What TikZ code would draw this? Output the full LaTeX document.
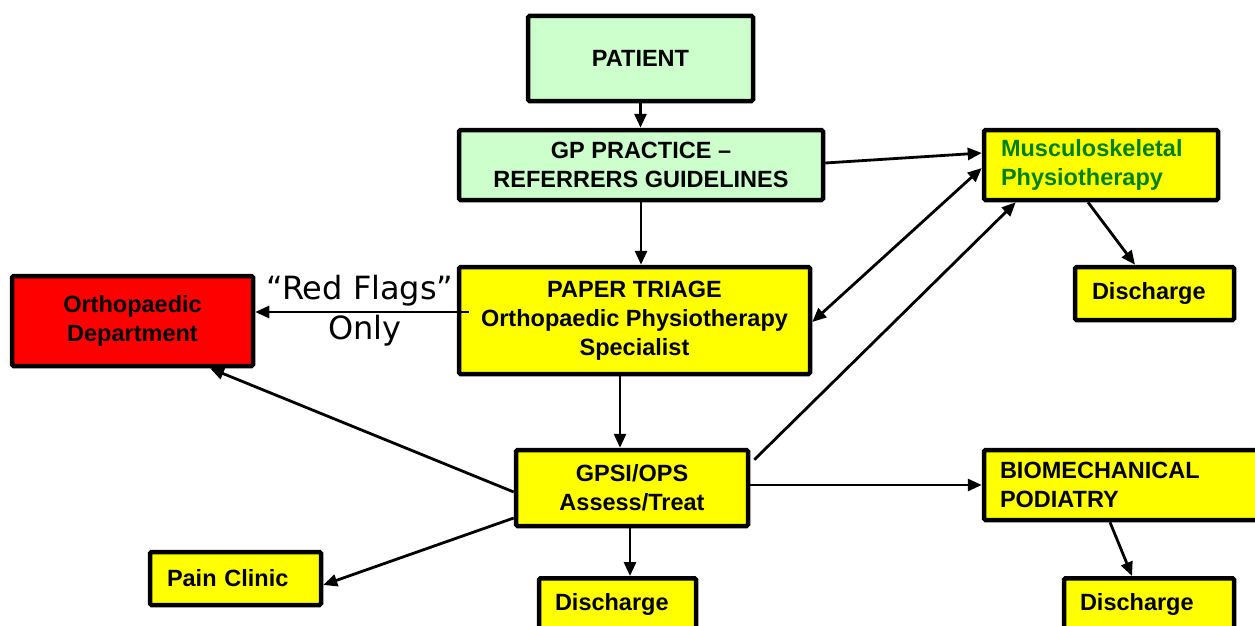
\documentclass[tikz,border=0pt]{standalone}
\usepackage{fontspec}
\setmainfont{Liberation Sans}
\newfontfamily\lblfont{DejaVu Sans}
\usetikzlibrary{arrows.meta,calc}
\definecolor{lgreen}{HTML}{CCFFCC}
\definecolor{yel}{HTML}{FFFF00}
\definecolor{rd}{HTML}{FF0000}
\definecolor{dgreen}{HTML}{008000}
\tikzset{
  box/.style={draw=black, line width=4.5pt, rounded corners=1.5pt, rectangle, inner sep=0pt,
    font=\fontsize{23.5}{29}\selectfont\bfseries, align=center},
  lbox/.style={box, align=left},
  arr/.style={line width=2.8pt, -{Triangle[length=14pt,width=12pt]}},
  darr/.style={line width=2.8pt, {Triangle[length=14pt,width=12pt]}-{Triangle[length=14pt,width=12pt]}},
  flag/.style={font=\lblfont\fontsize{32}{34}\selectfont, inner sep=0pt}
}
\begin{document}
\begin{tikzpicture}[x=1pt,y=-1pt]
\useasboundingbox (0,0) rectangle (1255,626);
\clip (0,0) rectangle (1255,626);
% boxes
\node[box, fill=lgreen, minimum width=225pt, minimum height=85pt] (patient) at (640.5,58.5) {PATIENT};
\node[box, fill=lgreen, minimum width=364pt, minimum height=70pt] (gp) at (641,165) {GP PRACTICE --\\REFERRERS GUIDELINES};
\node[lbox, fill=yel, text=dgreen, minimum height=70pt, text width=200pt, inner xsep=17pt] (musc) at (1101,165) {Musculoskeletal\\Physiotherapy};
\node[lbox, fill=yel, minimum height=53pt, text width=125pt, inner xsep=17pt] (dis1) at (1154.5,293.5) {Discharge};
\node[box, fill=rd, minimum width=241pt, minimum height=90pt] (ortho) at (132.5,321) {Orthopaedic\\Department};
\node[box, fill=yel, minimum width=351pt, minimum height=107pt] (paper) at (634.5,320.5) {PAPER TRIAGE\\Orthopaedic Physiotherapy\\Specialist};
\node[box, fill=yel, minimum width=232pt, minimum height=76pt] (gpsi) at (632,488) {GPSI/OPS\\Assess/Treat};
\node[lbox, fill=yel, minimum height=70pt, text width=249pt, inner xsep=16pt] (bio) at (1124.5,485) {BIOMECHANICAL\\PODIATRY};
\node[lbox, fill=yel, minimum height=53pt, text width=137pt, inner xsep=17pt] (pain) at (235.5,578.5) {Pain Clinic};
\node[lbox, fill=yel, anchor=north, text width=125pt, inner xsep=16pt, inner ysep=15pt, text height=17pt, text depth=40pt] (dis2) at (617.5,576) {Discharge};
\node[lbox, fill=yel, anchor=north, text width=138pt, inner xsep=16pt, inner ysep=15pt, text height=17pt, text depth=40pt] (dis3) at (1149,576) {Discharge};
% labels
\node[flag] (rf) at (360,291) {“Red Flags”};
\node[flag] (only) at (365,331) {Only};
% arrows
\draw[arr] (patient.south) -- (patient.south |- gp.north);
\draw[arr] ([yshift=2pt]gp.east) -- ([yshift=12pt]musc.west);
\draw[arr] (gp.south) -- (gp.south |- paper.north);
\draw[darr] ([yshift=-3pt]musc.west) -- ([yshift=-1.5pt]paper.east);
\draw[arr] ([yshift=-12pt,xshift=4pt]gpsi.north east) -- ([xshift=34pt]musc.south west);
\draw[arr] ([yshift=8.5pt,xshift=12pt]paper.west) -- ([yshift=9pt]ortho.east);
\draw[arr] ([xshift=-14.5pt]paper.south) -- ([xshift=-12pt]gpsi.north);
\draw[arr] ([yshift=-4pt]gpsi.west) -- ([xshift=77.5pt]ortho.south);
\draw[arr] ([yshift=-30pt]gpsi.west) -- ([yshift=-6.5pt]pain.east);
\draw[arr] ([xshift=-2pt]gpsi.south) -- ([xshift=12.5pt]dis2.north);
\draw[arr] ([yshift=3pt]gpsi.east) -- (bio.west);
\draw[arr] ([xshift=-13pt]musc.south) -- ([xshift=-19.5pt]dis1.north);
\draw[arr] ([xshift=-14.5pt]bio.south) -- ([xshift=-17pt]dis3.north);
\end{tikzpicture}
\end{document}
